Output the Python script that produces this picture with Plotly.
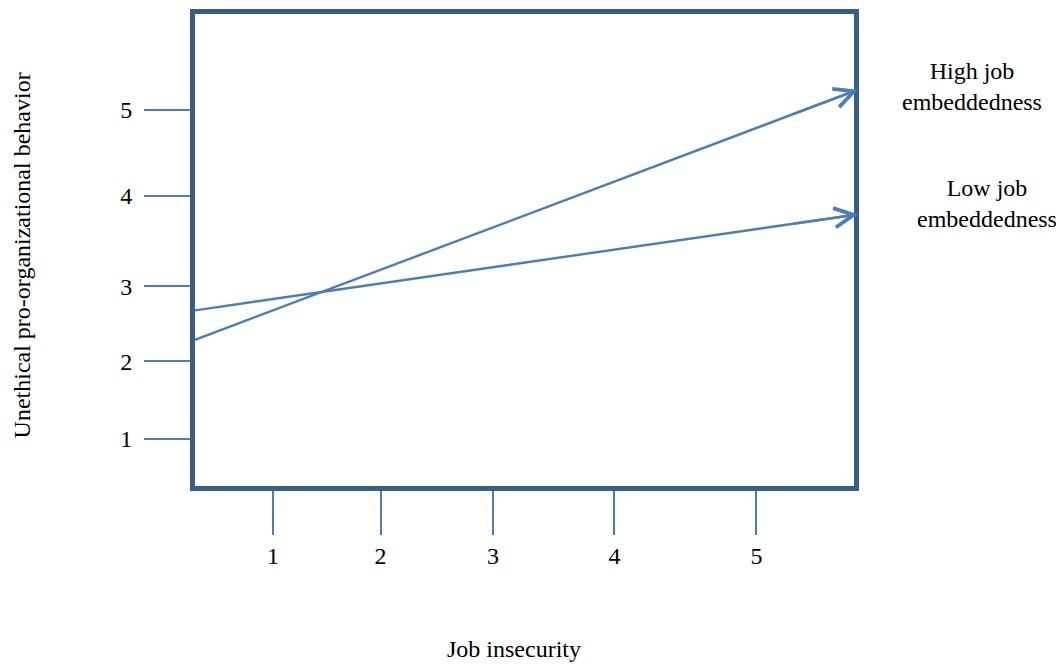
import plotly.graph_objects as go

# ---- data ----
x_tick_labels = ["1", "2", "3", "4", "5"]
x_tick_pos = [1.0, 1.89, 2.82, 3.825, 5.0]
y_tick_labels = ["1", "2", "3", "4", "5"]
y_tick_pos = [1.0, 1.945, 2.855, 3.958, 5.0]

x_ends = [0.355, 5.84]          # job insecurity (start, end)
high_embed = [2.206, 5.245]     # high job embeddedness
low_embed = [2.564, 3.73]       # low job embeddedness

series_names = ["High job<br>embeddedness", "Low job<br>embeddedness"]

x_range = [0.355, 5.807]
y_range = [0.43, 6.164]

LINE_C = "#4A7EBB"
BOX_C = "#385D8A"
FONT = "Liberation Serif, Times New Roman, serif"

# page has an 8px body margin: figure is sized/positioned to compensate
W, H = 1056, 656
L, R, T, B = 187, 210, 1, 178
PW, PH = W - L - R, H - T - B


def px(xp):
    return (xp - 8 - L) / PW


def py(yp):
    return (H - B - (yp - 8)) / PH


fig = go.Figure()

series = [high_embed, low_embed]
label_pos = [(972, 82), (987, 201)]
for name, ys, (lx, ly) in zip(series_names, series, label_pos):
    fig.add_trace(go.Scatter(x=x_ends, y=ys, mode="lines",
                             line=dict(color=LINE_C, width=2.4),
                             name=name.replace("<br>", " "), showlegend=False,
                             hoverinfo="skip"))
    # arrowhead on the last part of the line
    t = 0.9
    ax = x_ends[0] + t * (x_ends[1] - x_ends[0])
    ay = ys[0] + t * (ys[1] - ys[0])
    fig.add_annotation(x=x_ends[1], y=ys[1], ax=ax, ay=ay,
                       xref="x", yref="y", axref="x", ayref="y",
                       text="", showarrow=True, arrowhead=5, arrowsize=1.6,
                       arrowwidth=2.4, arrowcolor=LINE_C)
    fig.add_annotation(x=px(lx), y=py(ly), xref="paper", yref="paper",
                       text=name, showarrow=False,
                       xanchor="center", yanchor="middle", align="center",
                       font=dict(family=FONT, size=24, color="black"))

axis_common = dict(showline=True, linewidth=5, linecolor=BOX_C, mirror=True,
                   ticks="outside", tickwidth=1.5, tickcolor=LINE_C,
                   showgrid=False, zeroline=False,
                   tickfont=dict(family=FONT, size=24, color="black"))

fig.update_xaxes(range=x_range, tickvals=x_tick_pos, ticktext=x_tick_labels,
                 ticklen=44, **axis_common)
fig.update_yaxes(range=y_range, tickvals=y_tick_pos, ticktext=y_tick_labels,
                 ticklen=46, ticklabelstandoff=7, **axis_common)

fig.add_annotation(text="Job insecurity", xref="paper", yref="paper",
                   x=px(514), y=py(651), showarrow=False,
                   xanchor="center", yanchor="middle",
                   font=dict(family=FONT, size=24, color="black"))
fig.add_annotation(text="Unethical pro-organizational behavior", xref="paper",
                   yref="paper", x=px(22), y=py(253),
                   textangle=-90, showarrow=False, xanchor="center",
                   yanchor="middle",
                   font=dict(family=FONT, size=24, color="black"))

fig.update_layout(width=W, height=H,
                  margin=dict(l=L, r=R, t=T, b=B),
                  paper_bgcolor="white", plot_bgcolor="white",
                  showlegend=False)

fig.write_html("out.html")
